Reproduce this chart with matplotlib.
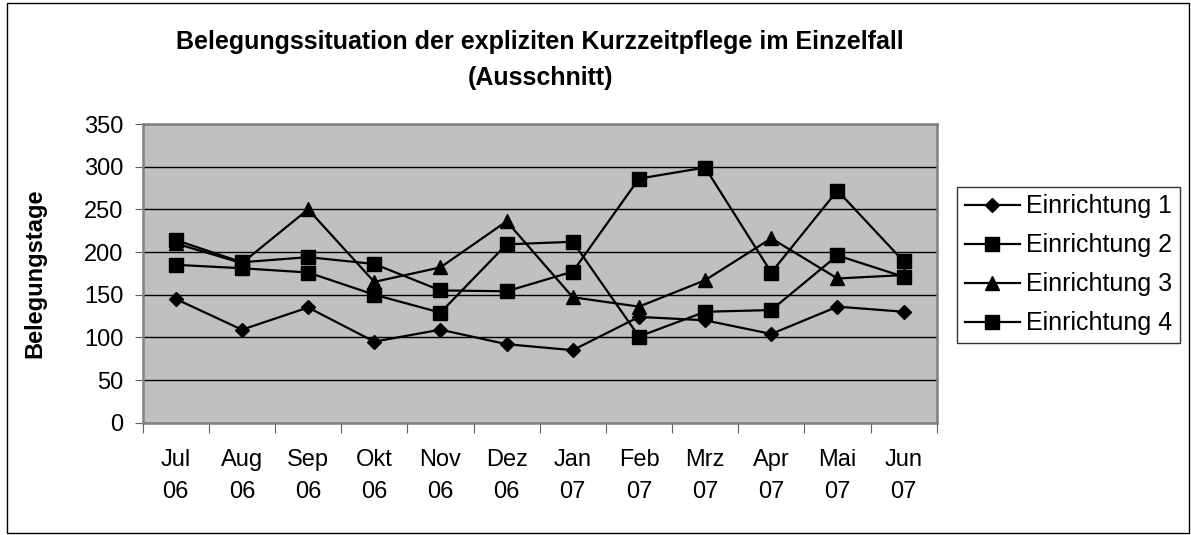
import numpy as np
import matplotlib.pyplot as plt
from matplotlib.patches import Rectangle

plt.rcParams['font.family'] = ['Liberation Sans', 'DejaVu Sans']

months = ['Jul\n06', 'Aug\n06', 'Sep\n06', 'Okt\n06', 'Nov\n06', 'Dez\n06',
          'Jan\n07', 'Feb\n07', 'Mrz\n07', 'Apr\n07', 'Mai\n07', 'Jun\n07']
einr1 = [145, 109, 135, 95, 109, 92, 85, 124, 120, 104, 136, 130]
einr2 = [214, 188, 194, 186, 155, 154, 177, 286, 299, 176, 272, 189]
einr3 = [210, 187, 250, 165, 182, 236, 147, 136, 167, 216, 169, 173]
einr4 = [185, 181, 176, 150, 129, 209, 212, 101, 130, 132, 196, 171]

fig = plt.figure(figsize=(11.91, 5.35), dpi=100)
ax = fig.add_axes([0.1198, 0.2099, 0.6667, 0.5583])
ax.set_facecolor('#c0c0c0')

x = np.arange(len(months))
ax.plot(x, einr1, color='black', lw=1.6, marker='D', ms=7.5, label='Einrichtung 1', zorder=3)
ax.plot(x, einr2, color='black', lw=1.6, marker='s', ms=10.5, label='Einrichtung 2', zorder=3)
ax.plot(x, einr3, color='black', lw=1.6, marker='^', ms=10.5, label='Einrichtung 3', zorder=3)
ax.plot(x, einr4, color='black', lw=1.6, marker='s', ms=10.5, label='Einrichtung 4', zorder=3)

ax.set_xlim(-0.5, 11.5)
ax.set_ylim(0, 350)
ax.set_yticks(range(0, 351, 50))
ax.yaxis.grid(True, color='black', lw=1)
ax.set_axisbelow(True)

# tick marks between the months, labels in the middle
ax.set_xticks(np.arange(-0.5, 12, 1))
ax.set_xticklabels([])
ax.set_xticks(x, minor=True)
ax.set_xticklabels(months, minor=True, fontsize=17, linespacing=1.6)
ax.tick_params(axis='x', which='minor', length=0, pad=19)
ax.tick_params(axis='x', which='major', length=7, color='#606060', direction='out')
ax.tick_params(axis='y', length=6, color='#606060', labelsize=17, pad=8)

for s in ax.spines.values():
    s.set_color('#808080')
    s.set_linewidth(1.8)

ax.set_ylabel('Belegungstage', fontsize=17, fontweight='bold', labelpad=27)

fig.text(0.4535, 0.888, 'Belegungssituation der expliziten Kurzzeitpflege im Einzelfall\n(Ausschnitt)',
         ha='center', va='center', fontsize=18, fontweight='bold', linespacing=1.6)

leg = ax.legend(loc='center left', bbox_to_anchor=(1.026, 0.528), frameon=True, fancybox=False,
                edgecolor='black', fontsize=18, handlelength=2.2, borderpad=0.3,
                labelspacing=0.6, handletextpad=0.25, borderaxespad=0)
leg.get_frame().set_linewidth(1)

fig.patches.append(Rectangle((7 / 1191, 2 / 535), 1182 / 1191, 530 / 535, transform=fig.transFigure,
                             fill=False, edgecolor='black', lw=1))

fig.savefig('out.png', dpi=100)
